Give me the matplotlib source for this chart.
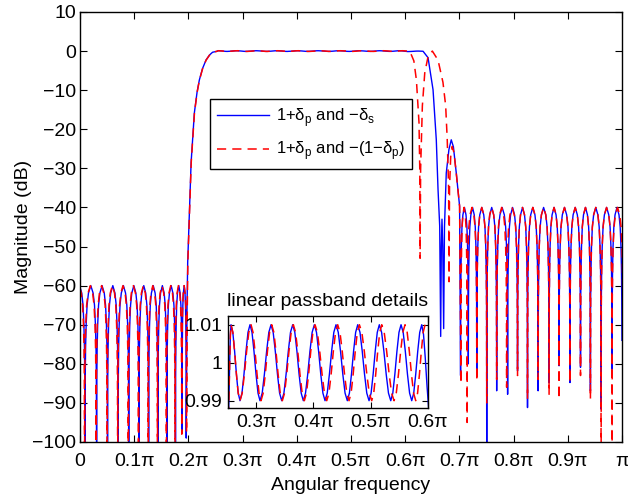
import numpy as np
import matplotlib
matplotlib.use('Agg')
import matplotlib.pyplot as plt

# frequencies are in units of pi, magnitudes in dB (passband ripple is linear)

# shape of one stopband lobe between two nulls, relative to its peak
lobeFrac = [0.02, 0.05, 0.1, 0.18, 0.3, 0.5, 0.7, 0.82, 0.9, 0.95, 0.98]
lobeShape = [-24, -16, -10, -5, -1.9, 0, -1.9, -5, -10, -16, -24]
# half cycle of passband ripple between two extrema
rippleFrac = [0.2, 0.4, 0.6, 0.8]
rippleMix = [0.9, 0.65, 0.35, 0.1]

# ---- blue: 1+dp and -ds
leftNullsBlue = [-0.0108, 0.0092, 0.0306, 0.0508, 0.0703, 0.0899, 0.1087,
                 0.1266, 0.1437, 0.1602, 0.1762, 0.1884, 0.1960]
leftDepthBlue = [-110, -110, -110, -110, -110, -110, -110,
                 -110, -110, -110, -105, -97.5, -99]
leftPeakBlue = -60
riseBlueX = [0.1975, 0.1987, 0.2050, 0.2110, 0.2160, 0.2202, 0.2260, 0.2325, 0.2390, 0.2446]
riseBlueY = [-65, -54, -28.5, -15.8, -10.5, -7.4, -4.5, -2.3, -1.0, -0.3]
passBlueX = [0.2500, 0.2558, 0.2715, 0.2890, 0.3065, 0.3258, 0.3445, 0.3637,
             0.3823, 0.4016, 0.4203, 0.4395, 0.4593, 0.4775, 0.4973, 0.5153,
             0.5353, 0.5533, 0.5720, 0.5895, 0.6050, 0.6240]
passBlueY = [0.982, 1.01, 0.99, 1.01, 0.99, 1.01, 0.99, 1.01,
             0.99, 1.01, 0.99, 1.01, 0.99, 1.01, 0.99, 1.01,
             0.99, 1.01, 0.99, 1.01, 0.985, 1.0]
fallBlueX = [0.6330, 0.6422, 0.6514, 0.6574, 0.6606, 0.6637, 0.6655, 0.6667,
             0.6679, 0.6693, 0.6710, 0.6725, 0.6758, 0.6807, 0.6850, 0.6890,
             0.6941, 0.7004]
fallBlueY = [-0.05, -1.7, -9.9, -22.7, -35.4, -44.8, -73, -50,
             -43, -50, -71, -45, -31.2, -25.2, -22.7, -24.5,
             -31, -39.7]
rightNullsBlue = [0.7022, 0.7165, 0.7321, 0.7505, 0.7688, 0.7890, 0.8073,
                  0.8257, 0.8453, 0.8655, 0.8839, 0.9040, 0.9235, 0.9418,
                  0.9615, 0.9817, 1.0]
rightDepthBlue = [-83, -80, -81.8, -110, -86.9, -87.8, -81.8,
                  -91.2, -86.9, -84.8, -80.5, -84.8, -80.9, -86.9,
                  -91.6, -81.4, -74]
rightPeakBlue = -40

# ---- red: 1+dp and -(1-dp)
leftNullsRed = [-0.0116, 0.0084, 0.0298, 0.0500, 0.0695, 0.0891, 0.1079,
                0.1258, 0.1429, 0.1594, 0.1754, 0.1878, 0.1966]
leftDepthRed = [-110, -110, -110, -110, -110, -110, -110,
                -110, -110, -110, -105, -98, -97.6]
leftPeakRed = -60
riseRedX = [0.1980, 0.1990, 0.2052, 0.2112, 0.2162, 0.2204, 0.2262, 0.2327, 0.2392, 0.2448]
riseRedY = [-65, -54, -28.5, -15.8, -10.5, -7.4, -4.5, -2.3, -1.0, -0.3]
passRedX = [0.2500, 0.2558, 0.2715, 0.2908, 0.3083, 0.3270, 0.3456, 0.3649,
            0.3841, 0.4028, 0.4233, 0.4425, 0.4623, 0.4804, 0.5020, 0.5195,
            0.5411, 0.5603, 0.5790, 0.5953]
passRedY = [0.982, 1.01, 0.99, 1.01, 0.99, 1.01, 0.99, 1.01,
            0.99, 1.01, 0.99, 1.01, 0.99, 1.01, 0.99, 1.01,
            0.99, 1.01, 0.99, 1.01]
fallRedX = [0.6086, 0.6160, 0.6207, 0.6255, 0.6270, 0.6275, 0.6285, 0.6317,
            0.6361, 0.6422, 0.6501, 0.6606, 0.6697, 0.6747, 0.6776, 0.6802,
            0.6809, 0.6818, 0.6840, 0.6868, 0.6900, 0.6941, 0.7004]
fallRedY = [-0.05, -2.5, -7.4, -18.3, -31, -53, -30, -14,
            -5.6, -1.4, 0, -2.3, -8, -14, -22.7, -35.4,
            -59, -35, -27, -24.4, -26, -31, -39.7]
rightNullsRed = [0.7030, 0.7143, 0.7321, 0.7505, 0.7688, 0.7872, 0.8073,
                 0.8257, 0.8453, 0.8655, 0.8839, 0.9040, 0.9235, 0.9418,
                 0.9615, 0.9817, 1.002]
rightDepthRed = [-85, -95, -84.4, -90, -84, -86, -83,
                 -89, -84, -87.8, -89, -84.8, -83, -89,
                 -110, -110, -70]
rightPeakRed = -40

xTicks = [0, 0.1, 0.2, 0.3, 0.4, 0.5, 0.6, 0.7, 0.8, 0.9, 1.0]
xTickLabels = ['0', '0.1\u03c0', '0.2\u03c0', '0.3\u03c0', '0.4\u03c0', '0.5\u03c0',
               '0.6\u03c0', '0.7\u03c0', '0.8\u03c0', '0.9\u03c0', '\u03c0']
yTicks = list(range(-100, 11, 10))
insetXTicks = [0.3, 0.4, 0.5, 0.6]
insetXTickLabels = ['0.3\u03c0', '0.4\u03c0', '0.5\u03c0', '0.6\u03c0']
insetYTicks = [0.99, 1.0, 1.01]
insetYTickLabels = ['0.99', '1', '1.01']
legendLabels = ['1+\u03b4$_\\mathregular{p}$ and \u2212\u03b4$_\\mathregular{s}$',
                '1+\u03b4$_\\mathregular{p}$ and \u2212(1\u2212\u03b4$_\\mathregular{p}$)']


def stopband(nulls, depths, peak):
    xs, ys = [], []
    for i in range(len(nulls) - 1):
        x0, x1 = nulls[i], nulls[i + 1]
        xs.append(x0)
        ys.append(depths[i])
        for f, d in zip(lobeFrac, lobeShape):
            xs.append(x0 + f * (x1 - x0))
            ys.append(peak + d)
    xs.append(nulls[-1])
    ys.append(depths[-1])
    return xs, ys


def ripple(extX, extY):
    xs, ys = [extX[0]], [extY[0]]
    for i in range(len(extX) - 1):
        for f, m in zip(rippleFrac, rippleMix):
            xs.append(extX[i] + f * (extX[i + 1] - extX[i]))
            ys.append(extY[i + 1] + (extY[i] - extY[i + 1]) * m)
        xs.append(extX[i + 1])
        ys.append(extY[i + 1])
    return xs, ys


def fullResponse(lN, lD, lP, rX, rY, pX, pY, fX, fY, rN, rD, rP):
    x1, y1 = stopband(lN, lD, lP)
    px, py = ripple(pX, pY)
    x2, y2 = stopband(rN, rD, rP)
    x = np.concatenate([x1, rX, px, fX, x2])
    y = np.concatenate([y1, rY, 20 * np.log10(py), fY, y2])
    return x, y, np.array(px), np.array(py)


blueX, blueY, bluePX, bluePY = fullResponse(
    leftNullsBlue, leftDepthBlue, leftPeakBlue, riseBlueX, riseBlueY,
    passBlueX, passBlueY, fallBlueX, fallBlueY,
    rightNullsBlue, rightDepthBlue, rightPeakBlue)
redX, redY, redPX, redPY = fullResponse(
    leftNullsRed, leftDepthRed, leftPeakRed, riseRedX, riseRedY,
    passRedX, passRedY, fallRedX, fallRedY,
    rightNullsRed, rightDepthRed, rightPeakRed)

plt.rcParams['font.family'] = ['Liberation Sans', 'DejaVu Sans']
plt.rcParams['font.size'] = 14
plt.rcParams['axes.linewidth'] = 1.0

fig = plt.figure(figsize=(6.28, 4.97), dpi=100)
ax = fig.add_axes([0.1274, 0.1107, 0.8630, 0.8652])
ax.plot(blueX, blueY, color='b', lw=1.0, label=legendLabels[0])
ax.plot(redX, redY, color='r', lw=1.1, dashes=(6, 4), label=legendLabels[1])
ax.set_xlim(0, 1)
ax.set_ylim(-100, 10)
ax.set_xticks(xTicks)
ax.set_xticklabels(xTickLabels)
ax.set_yticks(yTicks)
ax.tick_params(direction='in', top=True, right=True, length=5, width=0.8)
ax.tick_params(axis='x', pad=8)
ax.tick_params(axis='y', pad=3)
ax.set_xlabel('Angular frequency', labelpad=5)
ax.set_ylabel('Magnitude (dB)', labelpad=0)
leg = ax.legend(loc='upper left', bbox_to_anchor=(0.2404, 0.797), borderaxespad=0,
                fancybox=False, edgecolor='k', framealpha=1, fontsize=12,
                handlelength=3.1, handletextpad=0.4, borderpad=0.42,
                labelspacing=0.62)
leg.get_frame().set_linewidth(1.0)

ins = fig.add_axes([0.3626, 0.1785, 0.3185, 0.1857])
ins.plot(bluePX, bluePY, color='b', lw=1.0)
ins.plot(redPX, redPY, color='r', lw=1.1, dashes=(6, 4))
ins.set_xlim(0.25, 0.6)
ins.set_ylim(0.988, 1.0123)
ins.set_xticks(insetXTicks)
ins.set_xticklabels(insetXTickLabels)
ins.set_yticks(insetYTicks)
ins.set_yticklabels(insetYTickLabels)
ins.tick_params(direction='in', top=True, right=True, length=4, width=0.8, pad=4)
ins.set_title('linear passband details', fontsize=14, pad=7)

fig.savefig('out.png', dpi=100)
